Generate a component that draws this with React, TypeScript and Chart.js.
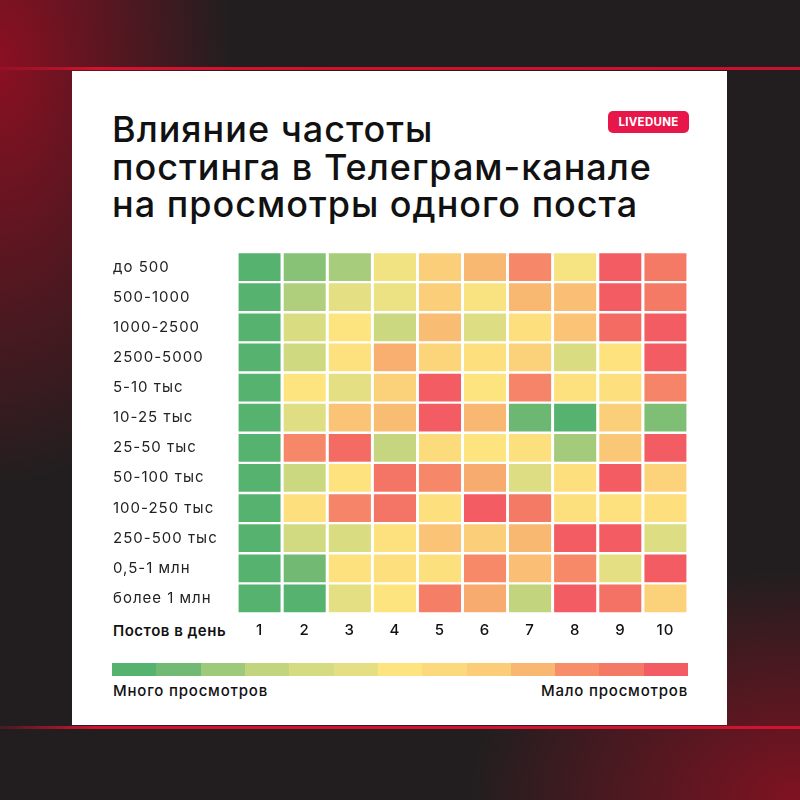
import React, { useEffect, useRef } from "react";
import { Chart, registerables } from "chart.js";

Chart.register(...registerables);

// Row categories (subscribers), top to bottom
const rowLabels = [
  "до 500",
  "500-1000",
  "1000-2500",
  "2500-5000",
  "5-10 тыс",
  "10-25 тыс",
  "25-50 тыс",
  "50-100 тыс",
  "100-250 тыс",
  "250-500 тыс",
  "0,5-1 млн",
  "более 1 млн",
];

// Columns: posts per day
const postsPerDay = ["1", "2", "3", "4", "5", "6", "7", "8", "9", "10"];

// Colour scale: 0 = many views (green) ... 12 = few views (red)
const palette = [
  "#56b26f",
  "#72ba73",
  "#9cc97a",
  "#c2d47e",
  "#d5db81",
  "#e5df84",
  "#fde47f",
  "#fcd97c",
  "#fbcd79",
  "#f9b872",
  "#f78d69",
  "#f57a66",
  "#f25c62",
];

// Heat levels per row (0 = many views, 12 = few views)
const upTo500 = [0, 1.5, 2.3, 5.5, 7.8, 9, 10.3, 5.7, 12, 11];
const from500to1000 = [0, 2.5, 5, 5.3, 7.8, 5.8, 9, 8.7, 12, 11];
const from1000to2500 = [0, 4.3, 6, 3.5, 8.8, 4.5, 6.5, 8.5, 11.5, 12];
const from2500to5000 = [0, 3.7, 6.3, 9.2, 7.3, 6.5, 7.7, 4.3, 6.2, 12];
const from5to10k = [0, 6, 5, 7.6, 12, 6, 10.5, 6.3, 6.5, 10.5];
const from10to25k = [0, 4.7, 8.5, 8.8, 12, 9, 0.8, 0, 7.8, 1.3];
const from25to50k = [0, 10.3, 11.5, 3.2, 6.8, 6, 6.4, 2.2, 8.3, 12];
const from50to100k = [0, 3.5, 6.2, 11.2, 10.3, 9.3, 4.5, 6.5, 12, 7.5];
const from100to250k = [0, 6.5, 10.5, 11.2, 6.5, 12, 11, 6.4, 6.3, 6.5];
const from250to500k = [0, 3.8, 4.3, 6.3, 8.5, 7.8, 9, 12, 12, 4.5];
const from500kto1m = [0, 1, 6.3, 6.5, 6.4, 10.2, 8.7, 10.2, 5, 12];
const over1m = [0, 0, 5, 6, 10.8, 9.3, 3, 12, 11.3, 7.6];

const heatRows = [
  upTo500,
  from500to1000,
  from1000to2500,
  from2500to5000,
  from5to10k,
  from10to25k,
  from25to50k,
  from50to100k,
  from100to250k,
  from250to500k,
  from500kto1m,
  over1m,
];

function hexToRgb(h: string) {
  const n = parseInt(h.slice(1), 16);
  return [(n >> 16) & 255, (n >> 8) & 255, n & 255];
}

function levelColor(v: number) {
  const lo = Math.max(0, Math.min(palette.length - 1, Math.floor(v)));
  const hi = Math.min(palette.length - 1, lo + 1);
  const t = v - lo;
  const a = hexToRgb(palette[lo]);
  const b = hexToRgb(palette[hi]);
  const c = a.map((x, i) => Math.round(x + (b[i] - x) * t));
  return `rgb(${c[0]},${c[1]},${c[2]})`;
}

const FONT = "Inter, 'Noto Sans', sans-serif";

const letterSpacingPlugin = {
  id: "letterSpacing",
  beforeDraw(chart: any) {
    try {
      (chart.ctx as any).letterSpacing = "1px";
    } catch (e) {
      /* ignore */
    }
  },
};

function Heatmap() {
  const ref = useRef<HTMLCanvasElement | null>(null);
  useEffect(() => {
    if (!ref.current) return;
    // stacked bars: first dataset at the bottom -> last row
    const datasets = heatRows
      .map((row, r) => ({
        label: rowLabels[r],
        data: row.map(() => 1),
        backgroundColor: row.map((v) => levelColor(v)),
        borderColor: "#ffffff",
        borderWidth: { top: 1.2, bottom: 1.2, left: 0, right: 0 },
        borderSkipped: false,
        inflateAmount: 0,
        categoryPercentage: 1,
        barPercentage: 0.94,
        yAxisID: "y",
      }))
      .reverse();

    const chart = new Chart(ref.current, {
      type: "bar",
      data: { labels: postsPerDay, datasets: datasets as any },
      plugins: [letterSpacingPlugin],
      options: {
        animation: false,
        responsive: false,
        maintainAspectRatio: false,
        layout: { padding: { left: 113, top: 252, right: 112, bottom: 156.5 } },
        plugins: {
          legend: { display: false },
          tooltip: { enabled: false },
          title: { display: false },
        },
        scales: {
          x: {
            type: "category",
            stacked: true,
            grid: { display: false, drawTicks: false },
            border: { display: false },
            ticks: {
              color: "#111111",
              padding: 8,
              font: { family: FONT, size: 15, weight: 500 as any },
            },
            afterFit: (axis: any) => {
              axis.height = 30;
            },
          },
          y: {
            type: "linear",
            stacked: true,
            min: 0,
            max: rowLabels.length,
            display: false,
          },
          rows: {
            type: "category",
            labels: rowLabels,
            position: "left",
            offset: true,
            grid: { display: false, drawTicks: false },
            border: { display: false },
            ticks: {
              crossAlign: "far",
              padding: 0,
              color: "#222222",
              font: { family: FONT, size: 15, weight: 400 as any },
            },
            afterFit: (axis: any) => {
              axis.width = 124;
            },
          },
        } as any,
      },
    });
    return () => chart.destroy();
  }, []);
  return (
    <canvas
      ref={ref}
      width={800}
      height={800}
      style={{ position: "absolute", left: 0, top: 0, width: 800, height: 800 }}
    />
  );
}

export default function App() {
  return (
    <div
      style={{
        position: "absolute",
        left: 0,
        top: 0,
        width: 800,
        height: 800,
        overflow: "hidden",
        fontFamily: FONT,
        background:
          "radial-gradient(ellipse 230px 420px at 0% 8%, rgba(150,14,34,0.9), rgba(150,14,34,0) 100%)," +
          "radial-gradient(ellipse 330px 230px at 100% 100%, rgba(145,16,34,0.85), rgba(145,16,34,0) 100%)," +
          "#221e1f",
      }}
    >
      <div
        style={{
          position: "absolute",
          left: 0,
          top: 67,
          width: 800,
          height: 3,
          background: "linear-gradient(to right, rgba(205,18,42,0.2), #d2132f 12%, #c8112d)",
        }}
      />
      <div
        style={{
          position: "absolute",
          left: 0,
          top: 726,
          width: 800,
          height: 3,
          background: "linear-gradient(to right, rgba(205,18,42,0.2), #d2132f 12%, #d0132f)",
        }}
      />
      <div
        style={{
          position: "absolute",
          left: 72,
          top: 71,
          width: 655,
          height: 654,
          background: "#ffffff",
        }}
      />
      <div
        style={{
          position: "absolute",
          left: 112,
          top: 111,
          fontSize: 36,
          fontWeight: 500,
          lineHeight: "37.5px",
          color: "#111111",
          letterSpacing: "1px",
          whiteSpace: "nowrap",
        }}
      >
        Влияние частоты
        <br />
        постинга в Телеграм-канале
        <br />
        на просмотры одного поста
      </div>
      <div
        style={{
          position: "absolute",
          left: 608,
          top: 111,
          width: 81,
          height: 22,
          borderRadius: 5,
          background: "#e8174b",
          color: "#ffffff",
          fontSize: 11.5,
          fontWeight: 700,
          lineHeight: "22px",
          textAlign: "center",
          letterSpacing: "0.3px",
        }}
      >
        LIVEDUNE
      </div>
      <div
        style={{
          position: "absolute",
          left: 113,
          top: 621,
          fontSize: 15,
          fontWeight: 600,
          lineHeight: "20px",
          color: "#111111",
          letterSpacing: "0.5px",
          whiteSpace: "nowrap",
        }}
      >
        Постов в день
      </div>
      <div
        style={{
          position: "absolute",
          left: 112,
          top: 663,
          width: 576,
          height: 13,
          display: "flex",
        }}
      >
        {palette.map((c, i) => (
          <div key={i} style={{ flex: 1, background: c }} />
        ))}
      </div>
      <div
        style={{
          position: "absolute",
          left: 113,
          top: 681,
          fontSize: 15,
          fontWeight: 500,
          lineHeight: "20px",
          color: "#111111",
          letterSpacing: "0.8px",
          whiteSpace: "nowrap",
        }}
      >
        Много просмотров
      </div>
      <div
        style={{
          position: "absolute",
          right: 800 - 688,
          top: 681,
          fontSize: 15,
          fontWeight: 500,
          lineHeight: "20px",
          color: "#111111",
          letterSpacing: "0.8px",
          whiteSpace: "nowrap",
        }}
      >
        Мало просмотров
      </div>
      <Heatmap />
    </div>
  );
}
